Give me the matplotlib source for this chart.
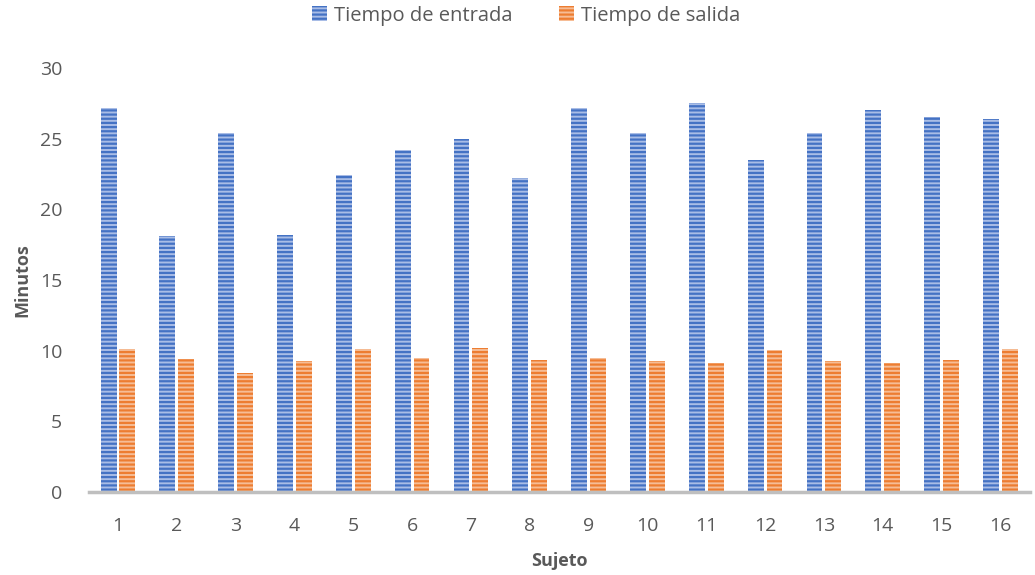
import matplotlib.pyplot as plt
import numpy as np

plt.rcParams['font.family'] = ['Open Sans', 'DejaVu Sans']
plt.rcParams['hatch.linewidth'] = 1.6

# Minutes per subject
sujetos = [str(i) for i in range(1, 17)]
tiempo_entrada = [27.2, 18.1, 25.4, 18.2, 22.4, 24.2, 25.0, 22.2,
                  27.2, 25.4, 27.55, 23.5, 25.4, 27.0, 26.55, 26.4]
tiempo_salida = [10.1, 9.4, 8.4, 9.25, 10.15, 9.5, 10.2, 9.35,
                 9.5, 9.3, 9.13, 10.05, 9.3, 9.13, 9.35, 10.15]

gris = '#595959'
x = np.arange(len(sujetos))
w = 0.27

fig = plt.figure(figsize=(10.35, 5.75), dpi=100)
ax = fig.add_axes([0.0856, 0.1443, 0.9094, 0.7374])

ax.bar(x - 0.16, tiempo_entrada, w, color='#a9bde6', edgecolor='#4472c4',
       linewidth=0, hatch='----', label='Tiempo de entrada')
ax.bar(x + 0.16, tiempo_salida, w, color='#f6bd96', edgecolor='#ed7d31',
       linewidth=0, hatch='----', label='Tiempo de salida')

ax.set_xlim(-0.5, len(sujetos) - 0.5)
ax.set_ylim(0, 30)
ax.set_yticks(range(0, 31, 5))
ax.set_xticks(x)
ax.set_xticklabels(sujetos)
ax.tick_params(length=0, labelsize=14, colors=gris)
ax.tick_params(axis='x', pad=18)
ax.tick_params(axis='y', pad=19)

for s in ['top', 'right', 'left']:
    ax.spines[s].set_visible(False)
ax.spines['bottom'].set_color('#bfbfbf')
ax.spines['bottom'].set_linewidth(2.5)

ax.set_xlabel('Sujeto', fontsize=13, fontweight='bold', color=gris, labelpad=12)
ax.set_ylabel('Minutos', fontsize=13, fontweight='bold', color=gris, labelpad=6)

ax.legend(loc='center', bbox_to_anchor=(0.465, 1.123), ncol=2, frameon=False,
          fontsize=14.5, labelcolor=gris, handlelength=0.75, handleheight=0.75,
          handletextpad=0.35, columnspacing=2.3)

fig.savefig('out.png', dpi=100)
